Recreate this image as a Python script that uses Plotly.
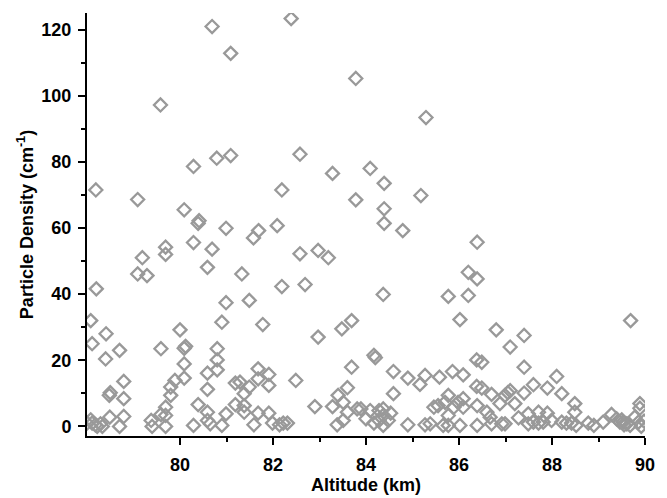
import plotly.graph_objects as go

altitude = [
    78.0, 78.08, 78.11, 78.18, 78.22, 78.29, 78.33, 78.08, 78.11, 78.20, 78.19, 78.41, 78.40, 78.70,
    78.48, 78.50, 78.49, 78.70, 78.79, 78.79, 78.79, 79.09, 79.09, 79.19, 79.29, 79.58, 79.69, 79.69,
    79.59, 79.38, 79.40, 79.59, 79.69, 79.69, 79.69, 79.80, 79.80, 79.89, 80.0, 80.09, 80.12, 80.09,
    80.09, 80.09, 80.29, 80.39, 80.41, 80.29, 80.69, 80.59, 80.69, 81.09, 80.79, 81.09, 80.99, 80.29,
    80.39, 80.59, 80.59, 80.59, 80.59, 80.80, 80.80, 80.80, 80.90, 80.99, 80.90, 80.99, 81.19, 81.19,
    81.33, 80.65,
    82.39, 83.78, 85.29, 82.58, 82.19, 83.28, 84.09, 84.39, 83.78, 85.18, 84.39, 84.39, 84.79, 82.09,
    81.69, 81.58, 82.58, 82.97, 83.19, 81.49, 82.19, 82.69, 81.78, 82.97, 83.48, 83.69, 84.37, 84.17,
    84.20, 83.69, 84.59, 84.90, 85.27, 85.16, 85.58, 85.86, 85.77, 86.02, 81.68, 81.68, 81.91, 81.91,
    81.29, 81.49, 81.38, 82.49, 81.38, 81.38, 81.68, 81.91, 81.59, 81.99, 82.14, 82.22, 82.31, 82.90,
    83.28, 83.40, 83.60, 83.51, 83.60, 83.38, 83.51, 83.81, 83.89, 84.0, 84.09, 84.17, 84.28, 84.28,
    84.37, 84.37, 84.37, 84.48, 84.53, 84.59, 84.90, 85.27, 85.38, 85.46, 85.55, 85.66, 85.70, 85.77,
    85.77, 85.77, 85.89, 85.98, 86.02,
    86.39, 86.20, 86.39, 86.20, 86.80, 87.10, 87.40, 87.40, 89.69, 86.38, 86.49, 86.09, 86.38, 86.49,
    86.70, 86.99, 87.05, 87.10, 86.88, 87.20, 87.40, 87.60, 87.90, 88.10, 88.21, 88.49, 88.49, 86.09,
    86.09, 86.39, 86.60, 86.67, 86.70, 86.39, 86.92, 86.99, 87.28, 87.49, 87.49, 87.60, 87.71, 87.71,
    87.81, 87.90, 87.99, 88.21, 88.31, 88.42, 88.52, 88.78, 88.90, 89.10, 89.28, 89.39, 89.46, 89.53,
    89.61, 89.68, 89.78, 89.89, 89.89, 89.86, 89.98, 89.92, 89.50, 89.55,
]

density = [
    1.0, 2.0, 1.0, 0.5, 0.0, 0.8, 0.0, 32.0, 25.0, 41.6, 71.5, 28.0, 20.4, 23.0,
    9.4, 10.2, 2.8, 0.0, 13.6, 8.4, 3.0, 68.6, 46.1, 51.0, 45.6, 97.2, 54.2, 52.0,
    23.5, 1.8, 0.0, 3.6, 5.8, 3.3, 0.0, 9.4, 11.9, 13.9, 29.2, 23.6, 24.2, 18.9,
    14.6, 65.5, 78.6, 61.4, 62.2, 55.6, 53.6, 48.1, 120.9, 112.8, 81.1, 81.9, 59.9, 0.3,
    6.6, 11.2, 4.3, 1.8, 16.1, 23.5, 20.1, 17.1, 31.5, 37.4, 0.3, 3.8, 6.6, 13.1,
    46.1, 0.8,
    123.3, 105.2, 93.4, 82.3, 71.5, 76.5, 78.0, 73.5, 68.5, 69.8, 65.8, 61.4, 59.2, 60.7,
    59.2, 57.0, 52.2, 53.2, 51.0, 38.1, 42.3, 42.9, 30.8, 27.0, 29.5, 32.0, 39.9, 21.5,
    20.8, 17.9, 16.6, 14.6, 15.4, 12.7, 14.9, 16.6, 39.3, 32.3, 17.4, 14.4, 15.7, 12.4,
    13.4, 11.9, 9.9, 13.9, 6.3, 4.3, 4.0, 4.0, 0.5, 1.0, 0.5, 1.0, 1.0, 6.0,
    6.0, 9.4, 11.7, 7.3, 4.3, 0.5, 1.8, 5.3, 5.3, 2.3, 4.8, 1.0, 4.8, 1.8,
    5.3, 3.3, 0.3, 1.8, 4.0, 9.9, 0.5, 0.5, 0.8, 5.8, 6.3, 0.3, 7.3, 9.4,
    3.3, 0.3, 5.8, 7.3, 0.3,
    55.7, 46.6, 44.6, 39.6, 29.2, 24.0, 27.5, 17.9, 32.0, 20.1, 19.4, 15.6, 12.1, 11.6,
    9.7, 9.4, 10.2, 10.8, 6.9, 6.9, 10.1, 12.6, 11.6, 15.1, 9.9, 6.9, 4.3, 8.4,
    5.8, 6.3, 4.3, 2.8, 0.8, 0.3, 0.8, 0.8, 2.6, 3.8, 0.8, 1.3, 4.3, 1.0,
    1.3, 4.0, 1.8, 1.3, 1.0, 1.0, 0.3, 1.0, 0.3, 1.3, 3.6, 2.3, 1.3, 1.3,
    0.8, 0.3, 2.8, 6.9, 5.5, 1.3, 1.6, 0.0, 2.0, 0.5,
]

x_range = [78, 90]
y_range = [-2.9, 125]
x_tickvals = [80, 82, 84, 86, 88, 90]
x_minorvals = [81, 83, 85, 87, 89]
y_tickvals = [0, 20, 40, 60, 80, 100, 120]
y_minorvals = [10, 30, 50, 70, 90, 110]

fig = go.Figure()
fig.add_trace(go.Scatter(
    x=altitude, y=density, mode="markers",
    marker=dict(symbol="diamond-open", size=10, color="#999999",
                line=dict(width=2.3, color="#999999")),
    showlegend=False,
))

font_family = "Arial, Liberation Sans, sans-serif"
axis_common = dict(
    showline=True, linecolor="black", linewidth=2,
    ticks="outside", ticklen=7, tickwidth=1.5, tickcolor="black",
    showgrid=False, zeroline=False,
    tickfont=dict(family=font_family, size=18, color="black", weight="bold"),
)

fig.update_layout(
    width=667, height=498,
    margin=dict(l=87, r=22, t=13, b=62),
    paper_bgcolor="white", plot_bgcolor="white",
    font=dict(family=font_family, color="black"),
    xaxis=dict(
        range=x_range, tickmode="array", tickvals=x_tickvals, ticklabelstandoff=4,
        minor=dict(tickmode="array", tickvals=x_minorvals, ticks="outside", ticklen=4,
                   tickcolor="black", tickwidth=1.5),
        title=dict(text="Altitude (km)", font=dict(family=font_family, size=18, color="black", weight="bold"), standoff=0),
        **axis_common,
    ),
    yaxis=dict(
        range=y_range, tickmode="array", tickvals=y_tickvals, ticklabelstandoff=3,
        minor=dict(tickmode="array", tickvals=y_minorvals, ticks="outside", ticklen=4,
                   tickcolor="black", tickwidth=1.5),
        title=dict(text="Particle Density (cm<sup>-1</sup>)", font=dict(family=font_family, size=18, color="black", weight="bold"), standoff=3),
        **axis_common,
    ),
)

fig.write_html("out.html")
